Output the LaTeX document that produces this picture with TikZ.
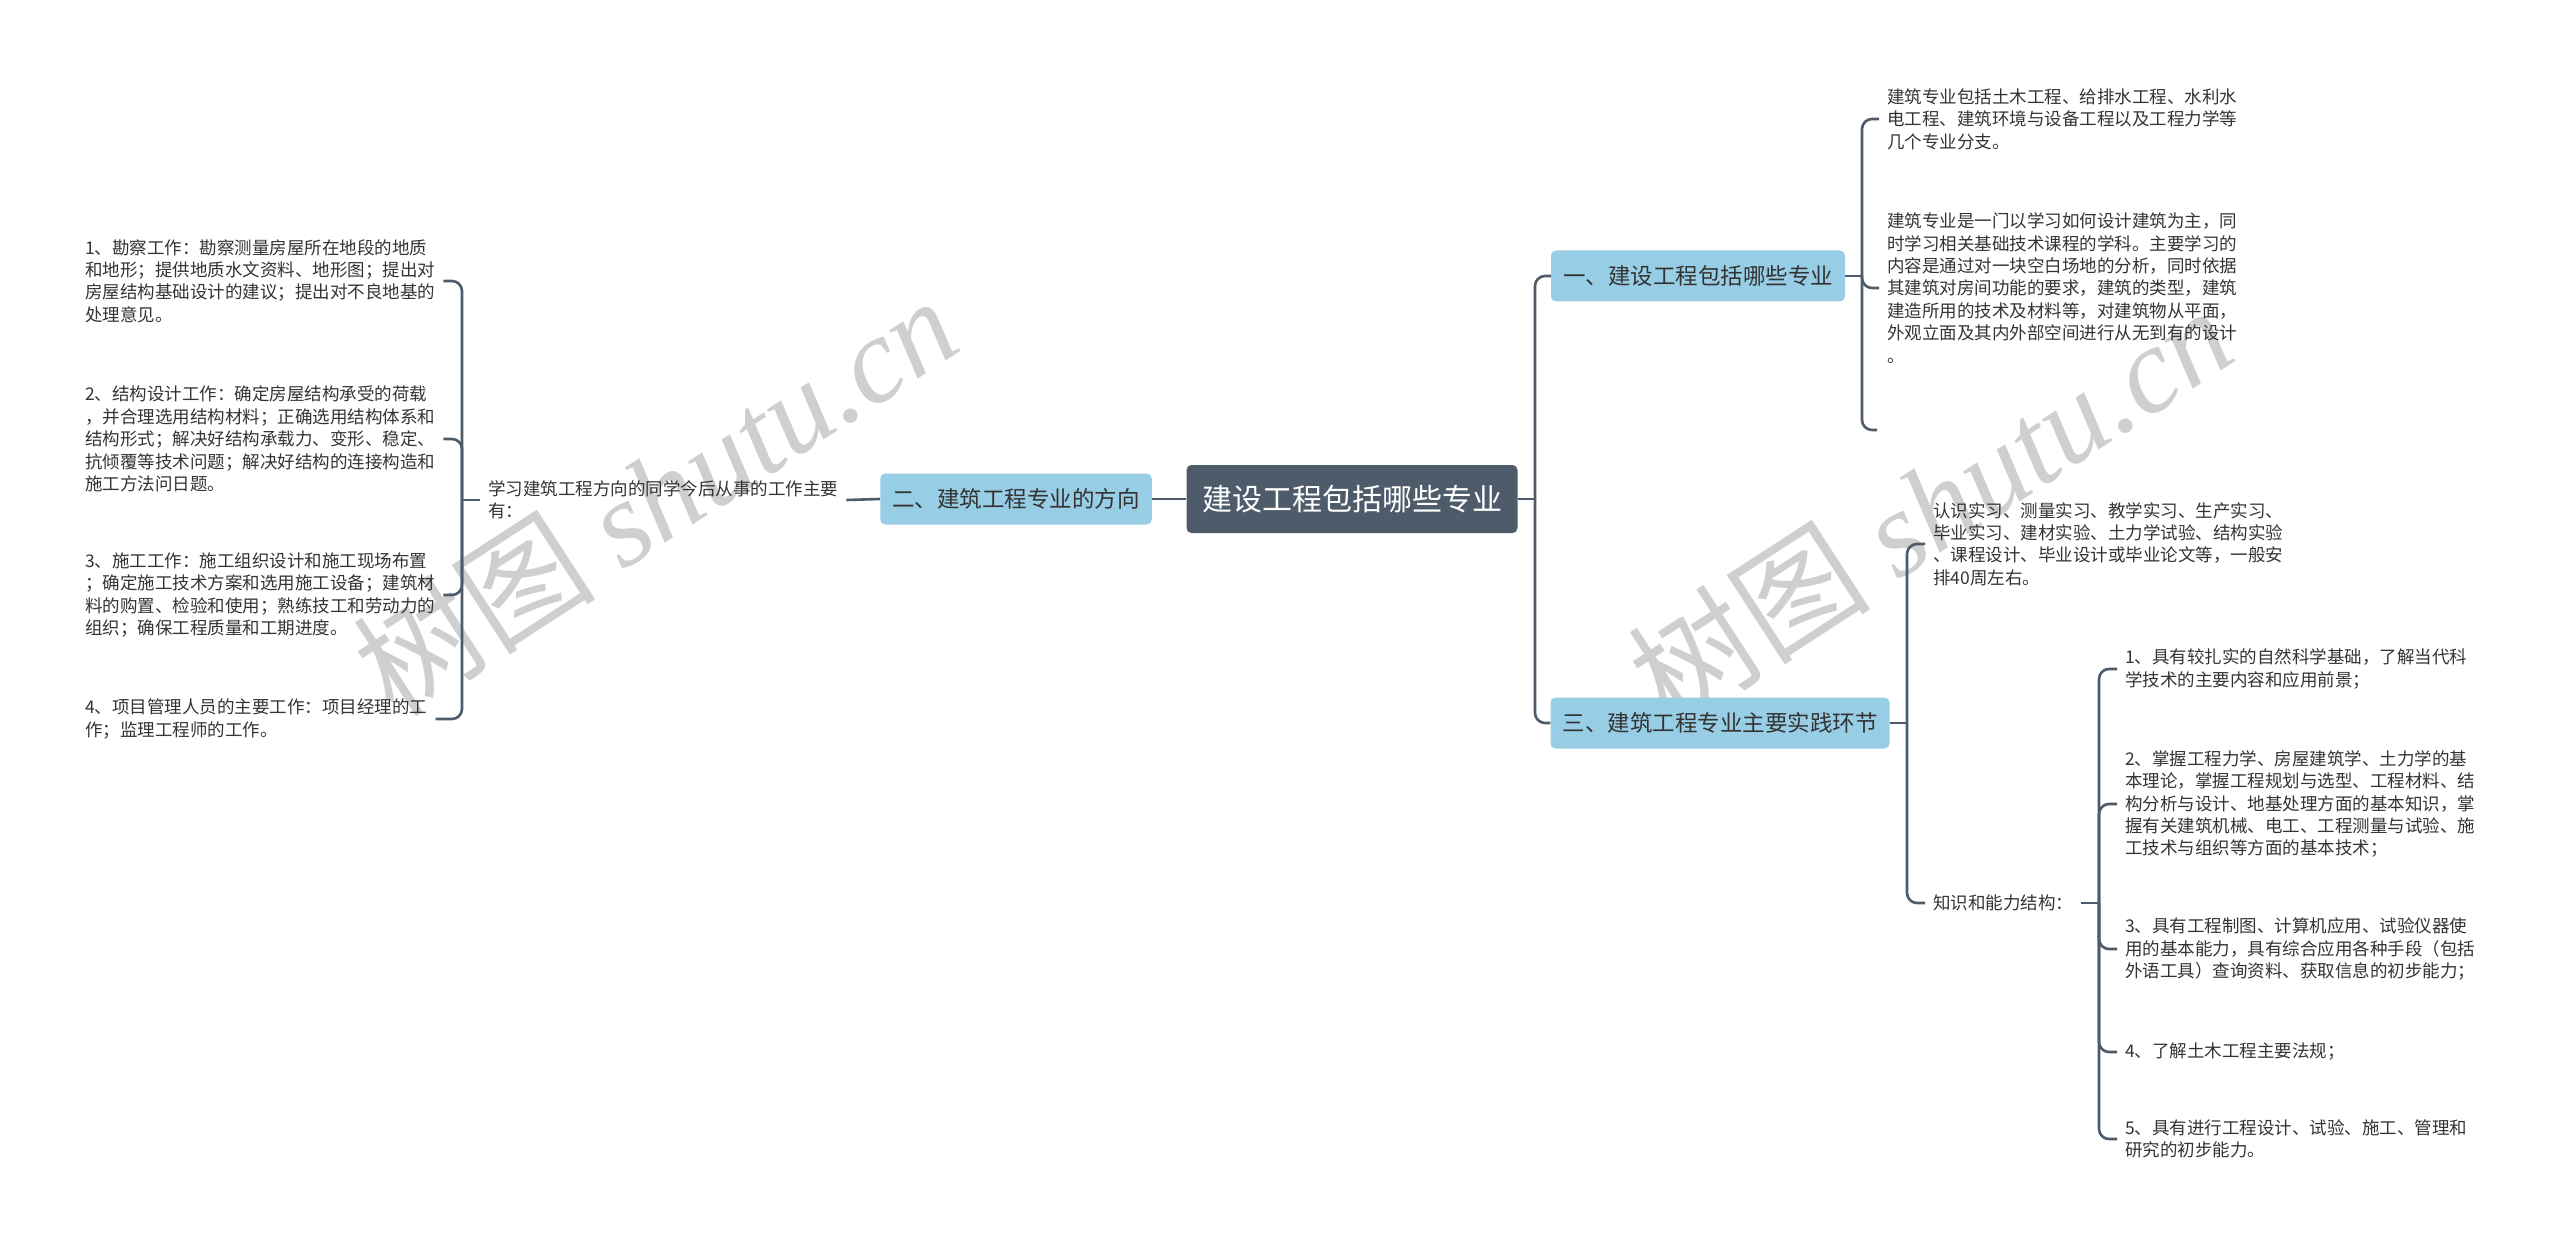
\documentclass[tikz,border=0pt]{standalone}
\usepackage{fontspec}
\setmainfont{Noto Sans CJK SC}
\newfontfamily\wmfont{Liberation Serif}
\usepackage{tikz}
\usetikzlibrary{positioning}
\usepackage{xcolor}
\definecolor{slate}{HTML}{4D5B6A}
\definecolor{topicblue}{HTML}{97CDE5}
\definecolor{txtgray}{HTML}{333333}

\begin{document}
\begin{tikzpicture}[x=1pt, y=-1pt,
  conn/.style={draw=slate, line width=2.6pt, rounded corners=10pt},
  mainbox/.style={fill=slate, text=white, rounded corners=5pt, minimum width=331pt, minimum height=68pt, font=\fontsize{30}{36}\selectfont},
  topicbox/.style={fill=topicblue, text=txtgray, rounded corners=5pt, minimum height=51pt, inner xsep=12pt, font=\fontsize{22.5}{27}\selectfont},
  leaftext/.style={anchor=west, text=txtgray, align=left, inner xsep=8pt, inner ysep=2pt, font=\fontsize{17.5}{22.4}\selectfont},
  wmark/.style={text=black!19, rotate=33, font=\fontsize{122}{126}\selectfont}]
  \useasboundingbox (0, 0) rectangle (2560, 1246);

  % watermarks
  \node[wmark] (wmleft) at (655, 495) {树图 {\wmfont\itshape shutu.cn}};
  \node[wmark] (wmright) at (1930, 505) {树图 {\wmfont\itshape shutu.cn}};

  % centre and topics
  \node[mainbox] (root) at (1352, 499) {建设工程包括哪些专业};
  \node[topicbox] (dir) at (1016, 499) {二、建筑工程专业的方向};
  \node[topicbox] (spec) at (1698, 276) {一、建设工程包括哪些专业};
  \node[topicbox] (prac) at (1720, 723) {三、建筑工程专业主要实践环节};

  % left branch
  \node[leaftext] (work) at (480, 500) {学习建筑工程方向的同学今后从事的工作主要\\有：};
  \node[leaftext] (w1) at (77, 281) {1、勘察工作：勘察测量房屋所在地段的地质\\和地形；提供地质水文资料、地形图；提出对\\房屋结构基础设计的建议；提出对不良地基的\\处理意见。};
  \node[leaftext] (w2) at (77, 439) {2、结构设计工作：确定房屋结构承受的荷载\\，并合理选用结构材料；正确选用结构体系和\\结构形式；解决好结构承载力、变形、稳定、\\抗倾覆等技术问题；解决好结构的连接构造和\\施工方法问日题。};
  \node[leaftext] (w3) at (77, 595) {3、施工工作：施工组织设计和施工现场布置\\；确定施工技术方案和选用施工设备；建筑材\\料的购置、检验和使用；熟练技工和劳动力的\\组织；确保工程质量和工期进度。};
  \node[leaftext] (w4) at (77, 719) {4、项目管理人员的主要工作：项目经理的工\\作；监理工程师的工作。};

  % topic one
  \node[leaftext] (s1) at (1879, 119) {建筑专业包括土木工程、给排水工程、水利水\\电工程、建筑环境与设备工程以及工程力学等\\几个专业分支。};
  \node[leaftext] (s2) at (1879, 288) {建筑专业是一门以学习如何设计建筑为主，同\\时学习相关基础技术课程的学科。主要学习的\\内容是通过对一块空白场地的分析，同时依据\\其建筑对房间功能的要求，建筑的类型，建筑\\建造所用的技术及材料等，对建筑物从平面，\\外观立面及其内外部空间进行从无到有的设计\\。};
  \coordinate (s3) at (1877, 430);

  % topic three
  \node[leaftext] (p1) at (1925, 544) {认识实习、测量实习、教学实习、生产实习、\\毕业实习、建材实验、土力学试验、结构实验\\、课程设计、毕业设计或毕业论文等，一般安\\排40周左右。};
  \node[leaftext] (p2) at (1925, 903) {知识和能力结构：};
  \node[leaftext] (a1) at (2117, 669) {1、具有较扎实的自然科学基础，了解当代科\\学技术的主要内容和应用前景；};
  \node[leaftext] (a2) at (2117, 804) {2、掌握工程力学、房屋建筑学、土力学的基\\本理论，掌握工程规划与选型、工程材料、结\\构分析与设计、地基处理方面的基本知识，掌\\握有关建筑机械、电工、工程测量与试验、施\\工技术与组织等方面的基本技术；};
  \node[leaftext] (a3) at (2117, 949) {3、具有工程制图、计算机应用、试验仪器使\\用的基本能力，具有综合应用各种手段（包括\\外语工具）查询资料、获取信息的初步能力；};
  \node[leaftext] (a4) at (2117, 1052) {4、了解土木工程主要法规；};
  \node[leaftext] (a5) at (2117, 1139) {5、具有进行工程设计、试验、施工、管理和\\研究的初步能力。};

  % forks
  \coordinate (workfork) at (462, 500);
  \coordinate (rootfork) at (1535, 499);
  \coordinate (specfork) at (1862, 276);
  \coordinate (pracfork) at (1907, 723);
  \coordinate (abfork) at (2099, 903);

  \draw[conn] (root.west) -- (dir.east);
  \draw[conn] (dir.west) -- (work.east);
  \draw[conn] (work.west) -- (workfork);
  \foreach \n in {w1, w2, w3, w4}
    \draw[conn] (workfork) |- (\n.east);

  \draw[conn] (root.east) -- (rootfork);
  \foreach \n in {spec, prac}
    \draw[conn] (rootfork) |- (\n.west);

  \draw[conn] (spec.east) -- (specfork);
  \foreach \n in {s1, s2}
    \draw[conn] (specfork) |- (\n.west);
  \draw[conn] (specfork) |- (s3);

  \draw[conn] (prac.east) -- (pracfork);
  \foreach \n in {p1, p2}
    \draw[conn] (pracfork) |- (\n.west);

  \draw[conn] (p2.east) -- (abfork);
  \foreach \n in {a1, a2, a3, a4, a5}
    \draw[conn] (abfork) |- (\n.west);
\end{tikzpicture}
\end{document}
